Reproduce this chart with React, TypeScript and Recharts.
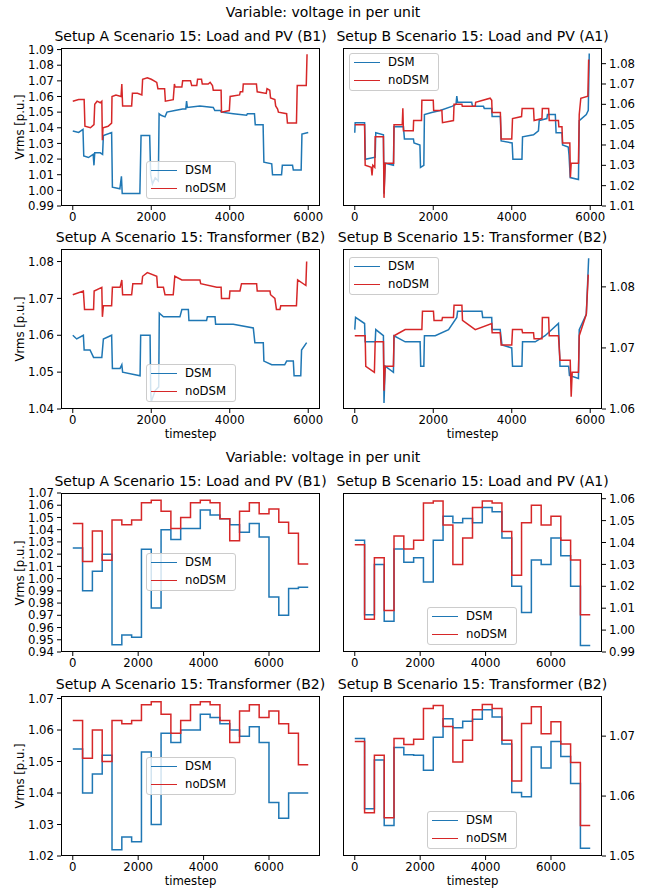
import { Line, LineChart, XAxis, YAxis } from "recharts"

const DSM_COLOR = "#1f77b4"
const NODSM_COLOR = "#d62728"
const FONT = "'DejaVu Sans', sans-serif"

// Upper figure: full resolution traces, [timestep, Vrms]
const aLoadDsm: [number, number][] = [
  [0, 1.038], [150, 1.037], [260, 1.039], [280, 1.022], [400, 1.021], [520, 1.023], [540, 1.016], [560, 1.024],
  [700, 1.024], [760, 1.023], [780, 1.035], [990, 1.037], [1010, 1.002], [1200, 1.001], [1240, 1.009], [1260, 0.998],
  [1500, 0.998], [1710, 0.998], [1740, 1.035], [1960, 1.035], [1985, 1.010], [2030, 1.004], [2100, 1.008], [2180, 1.006],
  [2200, 1.049], [2250, 1.048], [2350, 1.047], [2400, 1.050], [2600, 1.051], [2800, 1.052], [2880, 1.052], [2900, 1.057],
  [2920, 1.053], [3240, 1.054], [3580, 1.053], [3620, 1.051], [3760, 1.051], [3790, 1.050], [4090, 1.049], [4430, 1.048],
  [4450, 1.049], [4630, 1.049], [4650, 1.042], [4850, 1.042], [4870, 1.018], [5070, 1.017], [5090, 1.010], [5320, 1.010],
  [5340, 1.016], [5600, 1.016], [5620, 1.013], [5820, 1.013], [5840, 1.036], [6000, 1.037],
]
const aLoadNoDsm: [number, number][] = [
  [0, 1.057], [150, 1.058], [290, 1.058], [310, 1.041], [450, 1.040], [540, 1.042], [560, 1.055], [620, 1.057],
  [700, 1.056], [740, 1.057], [755, 1.032], [770, 1.040], [900, 1.041], [990, 1.043], [1000, 1.060], [1100, 1.061],
  [1230, 1.060], [1250, 1.068], [1270, 1.054], [1500, 1.054], [1520, 1.062], [1650, 1.062], [1760, 1.061], [1780, 1.071],
  [1900, 1.072], [2000, 1.071], [2140, 1.069], [2170, 1.065], [2340, 1.065], [2360, 1.057], [2560, 1.058], [2590, 1.068],
  [2610, 1.066], [2780, 1.066], [2800, 1.070], [3000, 1.070], [3030, 1.067], [3160, 1.067], [3180, 1.071], [3280, 1.071],
  [3300, 1.068], [3450, 1.068], [3500, 1.069], [3560, 1.067], [3580, 1.064], [3780, 1.064], [3790, 1.050], [3990, 1.051],
  [4010, 1.060], [4250, 1.061], [4270, 1.063], [4330, 1.063], [4345, 1.068], [4680, 1.068], [4700, 1.063], [4930, 1.062],
  [4950, 1.065], [5020, 1.064], [5040, 1.059], [5150, 1.058], [5170, 1.054], [5220, 1.052], [5240, 1.050], [5450, 1.049],
  [5470, 1.043], [5700, 1.043], [5720, 1.067], [5950, 1.067], [5970, 1.087],
]
const bLoadDsm: [number, number][] = [
  [0, 1.046], [10, 1.051], [250, 1.051], [270, 1.033], [520, 1.034], [535, 1.046], [730, 1.045], [745, 1.016],
  [775, 1.031], [985, 1.030], [1000, 1.049], [1240, 1.049], [1265, 1.043], [1495, 1.043], [1510, 1.041], [1660, 1.040],
  [1675, 1.029], [1760, 1.030], [1775, 1.055], [1960, 1.056], [2175, 1.057], [2475, 1.059], [2580, 1.060], [2600, 1.064],
  [2620, 1.061], [2980, 1.061], [3000, 1.059], [3280, 1.059], [3300, 1.058], [3490, 1.058], [3500, 1.054], [3710, 1.054],
  [3730, 1.042], [4010, 1.041], [4030, 1.033], [4260, 1.033], [4275, 1.044], [4555, 1.045], [4680, 1.047], [4700, 1.052],
  [4895, 1.053], [4910, 1.055], [5110, 1.055], [5130, 1.046], [5280, 1.046], [5295, 1.040], [5440, 1.039], [5460, 1.035],
  [5490, 1.024], [5700, 1.023], [5720, 1.052], [5900, 1.055], [5950, 1.057], [5975, 1.085],
]
const bLoadNoDsm: [number, number][] = [
  [0, 1.050], [250, 1.050], [265, 1.030], [420, 1.029], [440, 1.025], [460, 1.030], [510, 1.029], [520, 1.044],
  [730, 1.044], [745, 1.014], [775, 1.031], [990, 1.031], [1000, 1.050], [1210, 1.050], [1225, 1.058], [1240, 1.047],
  [1490, 1.047], [1500, 1.052], [1700, 1.052], [1710, 1.062], [2000, 1.062], [2010, 1.057], [2220, 1.057], [2235, 1.051],
  [2515, 1.052], [2530, 1.060], [2730, 1.060], [2740, 1.059], [3070, 1.059], [3080, 1.061], [3450, 1.063], [3490, 1.062],
  [3500, 1.056], [3710, 1.056], [3730, 1.043], [4000, 1.043], [4020, 1.053], [4250, 1.054], [4265, 1.058], [4555, 1.058],
  [4570, 1.052], [4770, 1.053], [4780, 1.058], [4940, 1.058], [4955, 1.052], [5190, 1.052], [5200, 1.049], [5280, 1.049],
  [5295, 1.041], [5480, 1.041], [5495, 1.024], [5515, 1.031], [5700, 1.031], [5720, 1.055], [5760, 1.063], [5940, 1.064],
  [5960, 1.082],
]
const aTrafoDsm: [number, number][] = [
  [0, 1.060], [100, 1.059], [270, 1.060], [290, 1.056], [440, 1.056], [530, 1.054], [740, 1.054], [780, 1.059],
  [990, 1.060], [1010, 1.051], [1205, 1.051], [1250, 1.052], [1270, 1.050], [1715, 1.049], [1730, 1.060], [1970, 1.060],
  [1985, 1.045], [2000, 1.042], [2100, 1.045], [2190, 1.046], [2205, 1.066], [2310, 1.065], [2730, 1.065], [2780, 1.067],
  [2945, 1.067], [2960, 1.064], [3410, 1.064], [3430, 1.065], [3625, 1.065], [3640, 1.063], [4090, 1.063], [4600, 1.062],
  [4640, 1.058], [4855, 1.058], [4870, 1.053], [5070, 1.052], [5400, 1.052], [5450, 1.053], [5620, 1.053], [5640, 1.049],
  [5810, 1.049], [5830, 1.056], [5960, 1.058],
]
const aTrafoNoDsm: [number, number][] = [
  [0, 1.071], [270, 1.072], [300, 1.067], [530, 1.067], [545, 1.072], [740, 1.073], [755, 1.065], [780, 1.068],
  [990, 1.068], [1010, 1.073], [1205, 1.073], [1250, 1.075], [1270, 1.071], [1500, 1.071], [1530, 1.074], [1760, 1.074],
  [1780, 1.076], [1900, 1.077], [2140, 1.076], [2160, 1.073], [2310, 1.073], [2350, 1.071], [2560, 1.071], [2600, 1.076],
  [2780, 1.075], [3240, 1.075], [3260, 1.074], [3670, 1.073], [3780, 1.073], [3790, 1.070], [3990, 1.070], [4005, 1.072],
  [4260, 1.072], [4300, 1.074], [4685, 1.074], [4700, 1.072], [5025, 1.072], [5040, 1.071], [5150, 1.070], [5190, 1.067],
  [5280, 1.067], [5300, 1.068], [5700, 1.068], [5730, 1.075], [5940, 1.0735], [5960, 1.080],
]
const bTrafoDsm: [number, number][] = [
  [0, 1.073], [20, 1.075], [250, 1.074], [265, 1.071], [300, 1.071], [520, 1.071], [535, 1.073], [730, 1.072],
  [745, 1.061], [775, 1.067], [985, 1.066], [1000, 1.072], [1285, 1.071], [1665, 1.071], [1680, 1.067], [1760, 1.067],
  [1775, 1.072], [2050, 1.072], [2390, 1.073], [2600, 1.075], [2620, 1.076], [3240, 1.076], [3260, 1.075], [3490, 1.075],
  [3500, 1.073], [3705, 1.073], [3750, 1.0705], [4000, 1.070], [4020, 1.067], [4260, 1.067], [4275, 1.071], [4600, 1.071],
  [4850, 1.072], [5190, 1.074], [5230, 1.067], [5450, 1.067], [5470, 1.0655], [5700, 1.065], [5720, 1.073], [5900, 1.0755],
  [5960, 1.0847],
]
const bTrafoNoDsm: [number, number][] = [
  [0, 1.072], [265, 1.072], [280, 1.067], [500, 1.066], [520, 1.071], [730, 1.071], [745, 1.063], [775, 1.067],
  [985, 1.067], [1000, 1.072], [1285, 1.073], [1710, 1.073], [1725, 1.076], [2005, 1.076], [2020, 1.0745], [2220, 1.0745],
  [2235, 1.075], [2515, 1.075], [2530, 1.077], [2730, 1.077], [2745, 1.0745], [3070, 1.073], [3490, 1.074], [3500, 1.0725],
  [3705, 1.0725], [3730, 1.0705], [4000, 1.0705], [4020, 1.073], [4260, 1.073], [4275, 1.0725], [4555, 1.0725], [4570, 1.0715],
  [4770, 1.0715], [4780, 1.075], [4940, 1.075], [4955, 1.072], [5190, 1.072], [5230, 1.068], [5490, 1.068], [5515, 1.062],
  [5540, 1.066], [5700, 1.066], [5720, 1.072], [5900, 1.0755], [5950, 1.082],
]

// Lower figure: one value per 300-step block
const blockStarts = [
  0, 300, 600, 900, 1200, 1500, 1800, 2100, 2400, 2700, 3000, 3300,
  3600, 3900, 4200, 4500, 4800, 5100, 5400, 5700, 6000, 6300, 6600, 6900,
]
const blockEnd = 7200
const aLoadDsmBlocks = [
  1.025, 0.990, 1.006, 1.020, 0.946, 0.954, 0.952, 1.024, 0.976, 1.040, 1.032, 1.041,
  1.041, 1.056, 1.052, 1.049, 1.044, 1.038, 1.045, 1.034, 0.985, 0.970, 0.992, 0.993,
]
const aLoadNoDsmBlocks = [
  1.045, 1.014, 1.039, 1.015, 1.048, 1.044, 1.048, 1.062, 1.064, 1.055, 1.041, 1.050,
  1.062, 1.064, 1.062, 1.049, 1.031, 1.055, 1.062, 1.053, 1.057, 1.046, 1.037, 1.012,
]
const bLoadDsmBlocks = [
  1.041, 1.007, 1.030, 1.004, 1.037, 1.031, 1.033, 1.022, 1.041, 1.052, 1.049, 1.051,
  1.049, 1.056, 1.054, 1.042, 1.020, 1.008, 1.032, 1.030, 1.042, 1.034, 1.020, 0.993,
]
const bLoadNoDsmBlocks = [
  1.039, 1.005, 1.033, 1.009, 1.043, 1.037, 1.041, 1.058, 1.059, 1.048, 1.030, 1.042,
  1.056, 1.059, 1.058, 1.045, 1.025, 1.049, 1.057, 1.048, 1.052, 1.041, 1.032, 1.007,
]
const aTrafoDsmBlocks = [
  1.054, 1.040, 1.046, 1.052, 1.022, 1.026, 1.0245, 1.053, 1.030, 1.059, 1.056, 1.060,
  1.060, 1.065, 1.064, 1.062, 1.060, 1.058, 1.061, 1.056, 1.037, 1.032, 1.040, 1.040,
]
const aTrafoNoDsmBlocks = [
  1.063, 1.051, 1.060, 1.050, 1.063, 1.062, 1.063, 1.068, 1.069, 1.065, 1.059, 1.063,
  1.068, 1.069, 1.068, 1.063, 1.056, 1.066, 1.068, 1.064, 1.066, 1.062, 1.059, 1.049,
]
const bTrafoDsmBlocks = [
  1.0696, 1.0579, 1.066, 1.0551, 1.0681, 1.0669, 1.0668, 1.0643, 1.0698, 1.0729, 1.0714, 1.0725,
  1.0728, 1.0744, 1.0732, 1.0687, 1.0606, 1.0599, 1.0682, 1.0647, 1.0691, 1.0666, 1.0621, 1.0513,
]
const bTrafoNoDsmBlocks = [
  1.0691, 1.0572, 1.0668, 1.0564, 1.0696, 1.0686, 1.0695, 1.0746, 1.0751, 1.0716, 1.0657, 1.0693,
  1.0744, 1.0753, 1.0746, 1.0693, 1.0625, 1.0721, 1.0749, 1.0704, 1.0724, 1.0687, 1.0656, 1.0551,
]

const xTicks = [0, 2000, 4000, 6000]
const suptitle = "Variable: voltage in per unit"

type Pt = { t: number; v: number }

const toPoints = (pairs: [number, number][]): Pt[] => pairs.map(([t, v]) => ({ t, v }))

// the last block is held until the end of the horizon
const toSteps = (vals: number[]): Pt[] => [
  ...blockStarts.map((t, i) => ({ t, v: vals[i] })),
  { t: blockEnd, v: vals[vals.length - 1] },
]

const PLOT_W = 259
const AXIS_W = 48
const PAD = 9
const XAXIS_H = 25
const SMALL = 11.7
const BIG = 14

interface PanelProps {
  x: number
  y: number
  h: number
  side: "left" | "right"
  xDomain: [number, number]
  yDomain: [number, number]
  yTicks: number[]
  dsm: Pt[]
  noDsm: Pt[]
  step?: boolean
  title: string
  xLabel?: boolean
  legend: [number, number]
}

function Label({ text, cx, top, size }: { text: string; cx: number; top: number; size: number }) {
  return (
    <div
      style={{
        position: "absolute",
        left: cx - 200,
        top,
        width: 400,
        textAlign: "center",
        fontSize: size,
        lineHeight: `${Math.round(size * 1.2)}px`,
        whiteSpace: "nowrap",
        color: "#000",
      }}
    >
      {text}
    </div>
  )
}

function LegendBox({ left, top }: { left: number; top: number }) {
  const entries = [
    { name: "DSM", color: DSM_COLOR },
    { name: "noDSM", color: NODSM_COLOR },
  ]
  return (
    <div
      style={{
        position: "absolute",
        left,
        top,
        width: 90,
        height: 38,
        boxSizing: "border-box",
        background: "rgba(255,255,255,0.8)",
        border: "1px solid #cccccc",
        borderRadius: 3,
        fontSize: SMALL,
      }}
    >
      {entries.map((e, i) => (
        <div
          key={e.name}
          style={{ position: "absolute", left: 4, top: 1 + i * 18, height: 14, display: "flex", alignItems: "center" }}
        >
          <div style={{ width: 26, height: 0, borderTop: `1.5px solid ${e.color}` }} />
          <span style={{ marginLeft: 8 }}>{e.name}</span>
        </div>
      ))}
    </div>
  )
}

function Panel(p: PanelProps) {
  const width = PLOT_W + AXIS_W + 2 * PAD
  const height = p.h + XAXIS_H + 2 * PAD
  const chartLeft = p.side === "left" ? p.x - AXIS_W - PAD : p.x - PAD
  const tickStyle = { fontSize: SMALL, fill: "#000", fontFamily: FONT }
  const lineType = p.step ? "stepAfter" : "linear"

  return (
    <>
      <div style={{ position: "absolute", left: chartLeft, top: p.y - PAD }}>
        <LineChart width={width} height={height} margin={{ top: PAD, right: PAD, bottom: PAD, left: PAD }}>
          <XAxis
            type="number"
            dataKey="t"
            domain={p.xDomain}
            ticks={xTicks}
            allowDataOverflow
            height={XAXIS_H}
            axisLine={false}
            tickLine={{ stroke: "#000" }}
            tickSize={4}
            tickMargin={3}
            tick={tickStyle}
            interval={0}
          />
          <YAxis
            type="number"
            orientation={p.side}
            domain={p.yDomain}
            ticks={p.yTicks}
            allowDataOverflow
            width={AXIS_W}
            axisLine={false}
            tickLine={{ stroke: "#000" }}
            tickSize={4}
            tickMargin={3}
            tick={tickStyle}
            interval={0}
            tickFormatter={(v: number) => v.toFixed(2)}
          />
          <Line
            data={p.dsm}
            dataKey="v"
            type={lineType}
            stroke={DSM_COLOR}
            strokeWidth={1.5}
            dot={false}
            isAnimationActive={false}
          />
          <Line
            data={p.noDsm}
            dataKey="v"
            type={lineType}
            stroke={NODSM_COLOR}
            strokeWidth={1.5}
            dot={false}
            isAnimationActive={false}
          />
        </LineChart>
      </div>
      <div
        style={{
          position: "absolute",
          left: p.x,
          top: p.y,
          width: PLOT_W,
          height: p.h,
          boxSizing: "border-box",
          border: "1px solid #000",
          pointerEvents: "none",
        }}
      />
      <Label text={p.title} cx={p.x + PLOT_W / 2} top={p.y - 20} size={BIG} />
      {p.side === "left" && (
        <div
          style={{
            position: "absolute",
            left: 20 - 50,
            top: p.y + p.h / 2 - 7,
            width: 100,
            textAlign: "center",
            fontSize: SMALL,
            lineHeight: "14px",
            whiteSpace: "nowrap",
            transform: "rotate(-90deg)",
          }}
        >
          Vrms [p.u.]
        </div>
      )}
      {p.xLabel && <Label text="timestep" cx={p.x + PLOT_W / 2} top={p.y + p.h + 18} size={SMALL} />}
      <LegendBox left={p.legend[0]} top={p.legend[1]} />
    </>
  )
}

const LX = 61
const RX = 343
const fullX: [number, number] = [-300, 6300]
const blockX: [number, number] = [-360, 7560]

export default function App() {
  return (
    <div
      style={{
        position: "absolute",
        left: 0,
        top: 0,
        width: 649,
        height: 891,
        background: "#fff",
        fontFamily: FONT,
        overflow: "hidden",
      }}
    >
      <Label text={suptitle} cx={323} top={4} size={BIG} />
      <Panel
        x={LX} y={48} h={158} side="left" xDomain={fullX}
        yDomain={[0.99, 1.091]}
        yTicks={[0.99, 1.0, 1.01, 1.02, 1.03, 1.04, 1.05, 1.06, 1.07, 1.08, 1.09]}
        dsm={toPoints(aLoadDsm)} noDsm={toPoints(aLoadNoDsm)}
        title="Setup A Scenario 15: Load and PV (B1)" legend={[146, 161]}
      />
      <Panel
        x={RX} y={48} h={158} side="right" xDomain={fullX}
        yDomain={[1.01, 1.0877]}
        yTicks={[1.01, 1.02, 1.03, 1.04, 1.05, 1.06, 1.07, 1.08]}
        dsm={toPoints(bLoadDsm)} noDsm={toPoints(bLoadNoDsm)}
        title="Setup B Scenario 15: Load and PV (A1)" legend={[349, 53]}
      />
      <Panel
        x={LX} y={249} h={160} side="left" xDomain={fullX}
        yDomain={[1.04, 1.0834]}
        yTicks={[1.04, 1.05, 1.06, 1.07, 1.08]}
        dsm={toPoints(aTrafoDsm)} noDsm={toPoints(aTrafoNoDsm)}
        title="Setup A Scenario 15: Transformer (B2)" xLabel legend={[146, 364]}
      />
      <Panel
        x={RX} y={249} h={160} side="right" xDomain={fullX}
        yDomain={[1.06, 1.0862]}
        yTicks={[1.06, 1.07, 1.08]}
        dsm={toPoints(bTrafoDsm)} noDsm={toPoints(bTrafoNoDsm)}
        title="Setup B Scenario 15: Transformer (B2)" xLabel legend={[349, 257]}
      />

      <Label text={suptitle} cx={323} top={449} size={BIG} />
      <Panel
        x={LX} y={493} h={159} side="left" xDomain={blockX} step
        yDomain={[0.94, 1.07]}
        yTicks={[0.94, 0.95, 0.96, 0.97, 0.98, 0.99, 1.0, 1.01, 1.02, 1.03, 1.04, 1.05, 1.06, 1.07]}
        dsm={toSteps(aLoadDsmBlocks)} noDsm={toSteps(aLoadNoDsmBlocks)}
        title="Setup A Scenario 15: Load and PV (B1)" legend={[146, 553]}
      />
      <Panel
        x={RX} y={493} h={159} side="right" xDomain={blockX} step
        yDomain={[0.99, 1.0626]}
        yTicks={[0.99, 1.0, 1.01, 1.02, 1.03, 1.04, 1.05, 1.06]}
        dsm={toSteps(bLoadDsmBlocks)} noDsm={toSteps(bLoadNoDsmBlocks)}
        title="Setup B Scenario 15: Load and PV (A1)" legend={[427, 607]}
      />
      <Panel
        x={LX} y={696} h={160} side="left" xDomain={blockX} step
        yDomain={[1.02, 1.0708]}
        yTicks={[1.02, 1.03, 1.04, 1.05, 1.06, 1.07]}
        dsm={toSteps(aTrafoDsmBlocks)} noDsm={toSteps(aTrafoNoDsmBlocks)}
        title="Setup A Scenario 15: Transformer (B2)" xLabel legend={[146, 757]}
      />
      <Panel
        x={RX} y={696} h={160} side="right" xDomain={blockX} step
        yDomain={[1.05, 1.0767]}
        yTicks={[1.05, 1.06, 1.07]}
        dsm={toSteps(bTrafoDsmBlocks)} noDsm={toSteps(bTrafoNoDsmBlocks)}
        title="Setup B Scenario 15: Transformer (B2)" xLabel legend={[427, 811]}
      />
    </div>
  )
}
